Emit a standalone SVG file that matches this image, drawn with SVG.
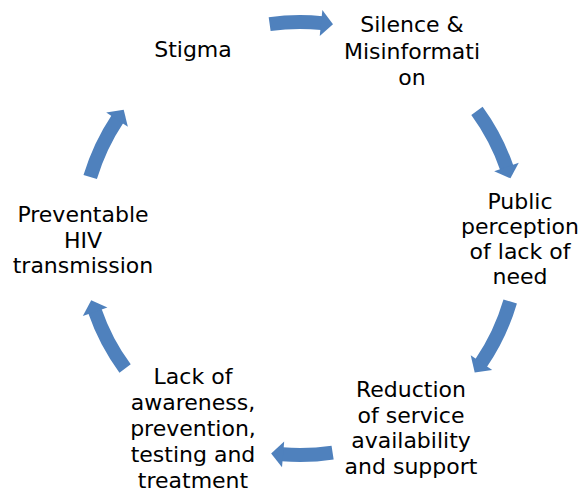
<svg xmlns="http://www.w3.org/2000/svg" width="585" height="489" viewBox="0 0 585 489">
<style>
.bg{fill:#ffffff}
.arc{fill:none;stroke:#4F81BD;stroke-width:14}
.lbl{font-family:"DejaVu Sans","Liberation Sans",sans-serif;font-size:22px;fill:#000;text-anchor:middle}
</style>
<defs>
<marker id="head" viewBox="-1 -14 14 28" refX="0" refY="0" markerWidth="14" markerHeight="28" markerUnits="userSpaceOnUse" orient="auto" overflow="visible">
<path d="M-1,-13 L11,0 L-1,13 Z" fill="#4F81BD"/>
</marker>
</defs>
<rect class="bg" x="0" y="0" width="585" height="489"/>
<g id="connectors">
<path class="arc" d="M269.65,24.11 A218,218 0 0 1 322.04,23.11" marker-end="url(#head)"/>
<path class="arc" d="M476.95,110.97 A219,219 0 0 1 506.82,167.97" marker-end="url(#head)"/>
<path class="arc" d="M510.2,301.47 A219,219 0 0 1 480.9,363.4" marker-end="url(#head)"/>
<path class="arc" d="M332.6,452.6 A215,215 0 0 1 282.1,454.3" marker-end="url(#head)"/>
<path class="arc" d="M125.1,368.5 A217,217 0 0 1 94.8,310.7" marker-end="url(#head)"/>
<path class="arc" d="M90.2,177.1 A219,219 0 0 1 117.6,118.8" marker-end="url(#head)"/>
</g>
<g id="stigma">
<text class="lbl" x="193" y="57">Stigma</text>
</g>
<g id="silence">
<text class="lbl" x="412" y="32">Silence &amp;</text>
<text class="lbl" x="412" y="58.5">Misinformati</text>
<text class="lbl" x="412" y="85">on</text>
</g>
<g id="public">
<text class="lbl" x="520" y="209">Public</text>
<text class="lbl" x="520" y="234">perception</text>
<text class="lbl" x="520" y="259">of lack of</text>
<text class="lbl" x="520" y="284">need</text>
</g>
<g id="reduction">
<text class="lbl" x="411" y="396.5">Reduction</text>
<text class="lbl" x="411" y="422.5">of service</text>
<text class="lbl" x="411" y="448">availability</text>
<text class="lbl" x="411" y="473.5">and support</text>
</g>
<g id="lack">
<text class="lbl" x="193" y="384">Lack of</text>
<text class="lbl" x="193" y="410">awareness,</text>
<text class="lbl" x="193" y="436">prevention,</text>
<text class="lbl" x="193" y="462">testing and</text>
<text class="lbl" x="193" y="488">treatment</text>
</g>
<g id="preventable">
<text class="lbl" x="83" y="222">Preventable</text>
<text class="lbl" x="83" y="247.5">HIV</text>
<text class="lbl" x="83" y="273">transmission</text>
</g>
</svg>
